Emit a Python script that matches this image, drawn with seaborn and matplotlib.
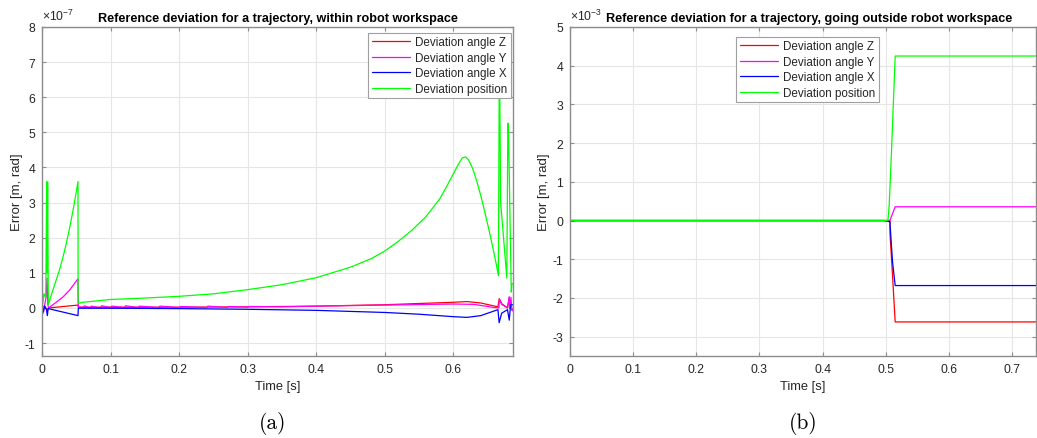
import numpy as np
import pandas as pd
import matplotlib
matplotlib.use("Agg")
import matplotlib.pyplot as plt
import seaborn as sns

# ---------------- data (a) : values in units of 1e-7 ----------------
t_pos_a = [0, 0.0005, 0.001, 0.003, 0.0055, 0.0068, 0.0075, 0.0082, 0.0092, 0.015, 0.02, 0.025,
           0.03, 0.035, 0.04, 0.045, 0.05, 0.0525, 0.0527, 0.06, 0.08, 0.1, 0.15, 0.2, 0.25,
           0.3, 0.35, 0.4, 0.45, 0.48, 0.5, 0.52, 0.54, 0.56, 0.58, 0.59, 0.6, 0.607, 0.613,
           0.618, 0.622, 0.628, 0.634, 0.64, 0.646, 0.652, 0.658, 0.6625, 0.6657,
           0.6668, 0.6678, 0.669, 0.678, 0.6795, 0.6805, 0.6845, 0.6855, 0.687]
pos_a = [0.1, 0.65, 0.1, 0.4, 0.3, 3.6, 1.0, 3.58, 0.1, 0.45, 0.75, 1.05,
         1.4, 1.8, 2.25, 2.75, 3.3, 3.6, 0.13, 0.16, 0.2, 0.24, 0.28, 0.33, 0.4,
         0.52, 0.66, 0.86, 1.16, 1.4, 1.62, 1.9, 2.22, 2.6, 3.1, 3.45, 3.82, 4.08, 4.27,
         4.3, 4.22, 3.98, 3.62, 3.2, 2.72, 2.22, 1.68, 1.25, 0.92,
         6.05, 6.0, 3.0, 0.85, 5.26, 5.0, 0.45, 0.69, 0.69]

t_y_a = [0, 0.002, 0.004, 0.006, 0.0073, 0.0085, 0.0095, 0.02, 0.03, 0.04, 0.0525, 0.053,
         0.06, 0.062, 0.07, 0.072, 0.085, 0.087, 0.1, 0.102, 0.12, 0.122, 0.14, 0.142,
         0.17, 0.172, 0.2, 0.202, 0.24, 0.242, 0.27, 0.272, 0.3, 0.302, 0.35, 0.4, 0.5,
         0.6, 0.63, 0.66, 0.6665, 0.667, 0.6705, 0.679, 0.6815, 0.6825, 0.684, 0.6855, 0.687]
ang_y_a = [0, -0.15, 0.1, 0.3, 0.85, 0.1, 0.0, 0.15, 0.3, 0.5, 0.83, 0.02,
           0.02, 0.06, 0.0, 0.05, 0.0, 0.06, 0.01, 0.05, 0.01, 0.06, 0.01, 0.05,
           0.01, 0.05, 0.01, 0.04, 0.01, 0.05, 0.01, 0.04, 0.02, 0.04, 0.03, 0.05, 0.08,
           0.11, 0.1, 0.01, 0.0, 0.25, 0.1, 0.0, 0.32, 0.0, 0.3, -0.08, -0.08]

t_z_a = [0, 0.003, 0.008, 0.01, 0.0525, 0.053, 0.2, 0.3, 0.4, 0.5, 0.6, 0.62, 0.64,
         0.665, 0.667, 0.6705, 0.679, 0.6815, 0.683, 0.6855, 0.687]
ang_z_a = [0, 0.05, -0.05, 0.0, 0.08, 0.02, 0.02, 0.03, 0.05, 0.09, 0.16, 0.18, 0.14,
           0.03, 0.26, 0.12, 0.0, 0.28, 0.0, -0.05, -0.05]

t_x_a = [0, 0.002, 0.004, 0.0065, 0.0078, 0.009, 0.0525, 0.053, 0.1, 0.2, 0.3, 0.4, 0.45,
         0.5, 0.55, 0.6, 0.62, 0.64, 0.665, 0.6668, 0.6705, 0.679, 0.6815, 0.6835, 0.687]
ang_x_a = [0.05, -0.1, 0.05, -0.05, -0.22, -0.02, -0.22, -0.01, -0.01, -0.02, -0.04, -0.07, -0.1,
           -0.13, -0.18, -0.25, -0.27, -0.22, -0.05, -0.42, -0.15, -0.05, -0.35, 0.09, 0.09]

# ---------------- data (b) : values in units of 1e-3 ----------------
t_pos_b = [0, 0.5, 0.5035, 0.5055, 0.5087, 0.515, 0.738]
pos_b = [0, 0, 0.0, 0.4, 1.6, 4.25, 4.25]
t_y_b = [0, 0.5066, 0.515, 0.738]
ang_y_b = [0, 0, 0.355, 0.355]
t_x_b = [0, 0.497, 0.5066, 0.5108, 0.515, 0.738]
ang_x_b = [0, 0, -0.03, -1.07, -1.68, -1.68]
t_z_b = [0, 0.5066, 0.5068, 0.5108, 0.515, 0.738]
ang_z_b = [0, 0, -0.34, -1.42, -2.62, -2.62]

series_names = ["Deviation angle Z", "Deviation angle Y", "Deviation angle X", "Deviation position"]
series_colors = ["#ff0000", "#ff00ff", "#0000ff", "#00ff00"]

titles = ["Reference deviation for a trajectory, within robot workspace",
          "Reference deviation for a trajectory, going outside robot workspace"]
captions = ["(a)", "(b)"]
exponents = ["-7", "-3"]

xticks_a = [0, 0.1, 0.2, 0.3, 0.4, 0.5, 0.6]
xticks_b = [0, 0.1, 0.2, 0.3, 0.4, 0.5, 0.6, 0.7]
yticks_a = [-1, 0, 1, 2, 3, 4, 5, 6, 7, 8]
yticks_b = [-3, -2, -1, 0, 1, 2, 3, 4, 5]


def build(ts, vs):
    frames = []
    for name, t, v in zip(series_names, ts, vs):
        frames.append(pd.DataFrame({"t": t, "v": v, "series": name}))
    return pd.concat(frames, ignore_index=True)


df_a = build([t_z_a, t_y_a, t_x_a, t_pos_a], [ang_z_a, ang_y_a, ang_x_a, pos_a])
df_b = build([t_z_b, t_y_b, t_x_b, t_pos_b], [ang_z_b, ang_y_b, ang_x_b, pos_b])

# ---------------- style ----------------
sns.set_theme(style="whitegrid")
plt.rcParams["font.family"] = ["Liberation Sans", "DejaVu Sans"]
plt.rcParams["axes.unicode_minus"] = False
plt.rcParams["mathtext.default"] = "regular"

spine_col = "#8c8c8c"
text_col = "#262626"
grid_col = "#e6e6e6"

fig = plt.figure(figsize=(10.37, 4.39), dpi=100)
W, H = 1037, 439
bottom = 1 - 357 / H
height = (357 - 28) / H
ax1 = fig.add_axes([42 / W, bottom, (513 - 42) / W, height])
ax2 = fig.add_axes([570 / W, bottom, (1036 - 570) / W, height])

palette = dict(zip(series_names, series_colors))

configs = [
    (ax1, df_a, (0, 0.687), (-1.37, 8.0), xticks_a, yticks_a, "upper right", (0.995, 0.982), 0.5, -0.040),
    (ax2, df_b, (0, 0.738), (-3.5, 5.0), xticks_b, yticks_b, "upper center", (0.51, 0.97), 0.513, -0.043),
]

for i, (ax, df, xl, yl, xt, yt, loc, anchor, title_x, ylab_x) in enumerate(configs):
    sns.lineplot(data=df, x="t", y="v", hue="series", palette=palette, hue_order=series_names,
                 estimator=None, sort=False, linewidth=0.9, ax=ax, legend=True)
    ax.set_xlim(*xl)
    ax.set_ylim(*yl)
    ax.set_xticks(xt)
    ax.set_xticklabels([f"{v:g}" for v in xt])
    ax.set_yticks(yt)
    ax.set_yticklabels([f"{v:g}" for v in yt])
    ax.set_facecolor("white")
    ax.grid(True, color=grid_col, linewidth=0.8)
    for s in ax.spines.values():
        s.set_visible(True)
        s.set_color(spine_col)
        s.set_linewidth(1.0)
    ax.tick_params(axis="both", which="both", direction="in", length=3, width=0.8,
                   color=spine_col, labelcolor=text_col, labelsize=8.8,
                   top=True, right=True, bottom=True, left=True, pad=5)
    ax.set_xlabel("Time [s]", fontsize=9.3, color=text_col, labelpad=4)
    ax.set_ylabel("Error [m, rad]", fontsize=9.5, color=text_col)
    ax.yaxis.set_label_coords(ylab_x, 0.5)
    ax.set_title(titles[i], fontsize=9.1, fontweight="bold", color="black", pad=4, x=title_x)
    ax.text(0.0, 1.012, "×10$^{" + exponents[i] + "}$", transform=ax.transAxes,
            fontsize=8.8, color=text_col, ha="left", va="bottom")
    handles, labels = ax.get_legend_handles_labels()
    leg = ax.legend(handles, labels, loc=loc, bbox_to_anchor=anchor, fontsize=8.4,
                    frameon=True, fancybox=False, framealpha=1, edgecolor="#a0a0a0",
                    handlelength=3.3, handletextpad=0.4, borderpad=0.3, labelspacing=0.3,
                    borderaxespad=0.0)
    leg.get_frame().set_linewidth(0.8)
    fig.text(ax.get_position().x0 + ax.get_position().width / 2 - (0.005 if i == 0 else 0.0),
             1 - 424 / H, captions[i], fontsize=15.5, family="cmr10", ha="center", va="center",
             color="black")

fig.savefig("out.png", dpi=100)
